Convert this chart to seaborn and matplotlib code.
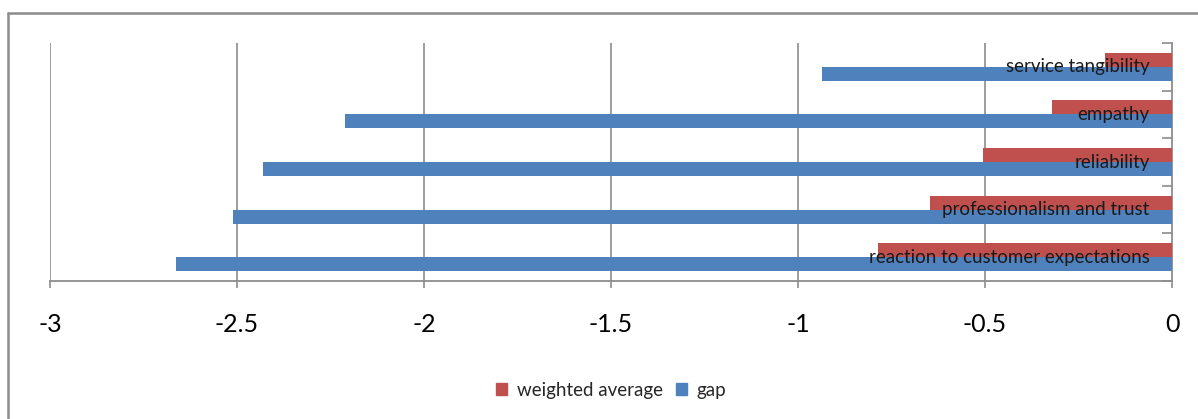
import matplotlib
matplotlib.use("Agg")
import matplotlib.pyplot as plt
from matplotlib.lines import Line2D
import numpy as np
import pandas as pd
import seaborn as sns

# Service quality dimensions (top to bottom)
dimensions = [
    "service tangibility",
    "empathy",
    "reliability",
    "professionalism and trust",
    "reaction to customer expectations",
]
weighted_average = [-0.18, -0.32, -0.505, -0.647, -0.786]
gap = [-0.936, -2.211, -2.43, -2.511, -2.663]
series_names = ["weighted average", "gap"]
x_ticks = [-3, -2.5, -2, -1.5, -1, -0.5, 0]

df = pd.DataFrame({
    "dimension": dimensions * 2,
    "value": weighted_average + gap,
    "series": [series_names[0]] * len(dimensions) + [series_names[1]] * len(dimensions),
})

sns.set_theme(style="white")
plt.rcParams["font.family"] = ["Lato", "DejaVu Sans"]

palette = {"weighted average": "#C0504D", "gap": "#4F81BD"}
grid_color = "#8C8C8C"

fig = plt.figure(figsize=(11.98, 4.19), dpi=100)
ax = fig.add_axes([50 / 1198, 1 - 281 / 419, (1172 - 50) / 1198, (281 - 43) / 419])

sns.barplot(
    data=df, x="value", y="dimension", hue="series", hue_order=series_names,
    order=dimensions, palette=palette, orient="h", width=0.59,
    saturation=1, ax=ax, legend=False, edgecolor="none", zorder=3,
)

ax.set_xlim(-3, 0)
ax.set_ylim(len(dimensions) - 0.5, -0.5)
ax.set_xticks(x_ticks)
ax.set_xticklabels([f"{t:g}" for t in x_ticks], fontsize=18, color="#000000")
ax.tick_params(axis="x", which="major", length=5, width=1.2, color=grid_color,
               direction="out", pad=18, bottom=True)

# Category axis sits at zero on the right, ticks at band boundaries
ax.set_yticks(np.arange(len(dimensions) + 1) - 0.5)
ax.set_yticklabels([])
ax.yaxis.set_ticks_position("right")
ax.tick_params(axis="y", which="major", length=7, width=1.2, color=grid_color,
               direction="in", right=True, left=False)
ax.set_xlabel("")
ax.set_ylabel("")

for side in ["top", "left"]:
    ax.spines[side].set_visible(False)
for side in ["bottom", "right"]:
    ax.spines[side].set_color(grid_color)
    ax.spines[side].set_linewidth(1.3)

ax.grid(False)
for t in x_ticks[:-1]:
    ax.axvline(t, color=grid_color, lw=1.2, zorder=1)

# Category names written inside the bars near the zero line
for i, name in enumerate(dimensions):
    ax.text(-0.06, i, name, ha="right", va="center", fontsize=13.5,
            color="#1a1a1a", zorder=5)

# Legend below the plot
handles = [plt.Rectangle((0, 0), 1, 1, color=palette[s]) for s in series_names]
fig.legend(handles, series_names, loc="center", bbox_to_anchor=(611 / 1198, 1 - 390 / 419),
           ncol=2, frameon=False, fontsize=13.5, handlelength=0.6, handleheight=0.6,
           handletextpad=0.5, columnspacing=0.7)

# Outer chart-area border
bx, by = 8 / 1198, 1 - 13 / 419
fig.add_artist(Line2D([bx, bx], [0, by], transform=fig.transFigure, color="#8C8C8C", lw=1.8))
fig.add_artist(Line2D([bx, 1], [by, by], transform=fig.transFigure, color="#8C8C8C", lw=1.8))

fig.savefig("out.png", dpi=100)
